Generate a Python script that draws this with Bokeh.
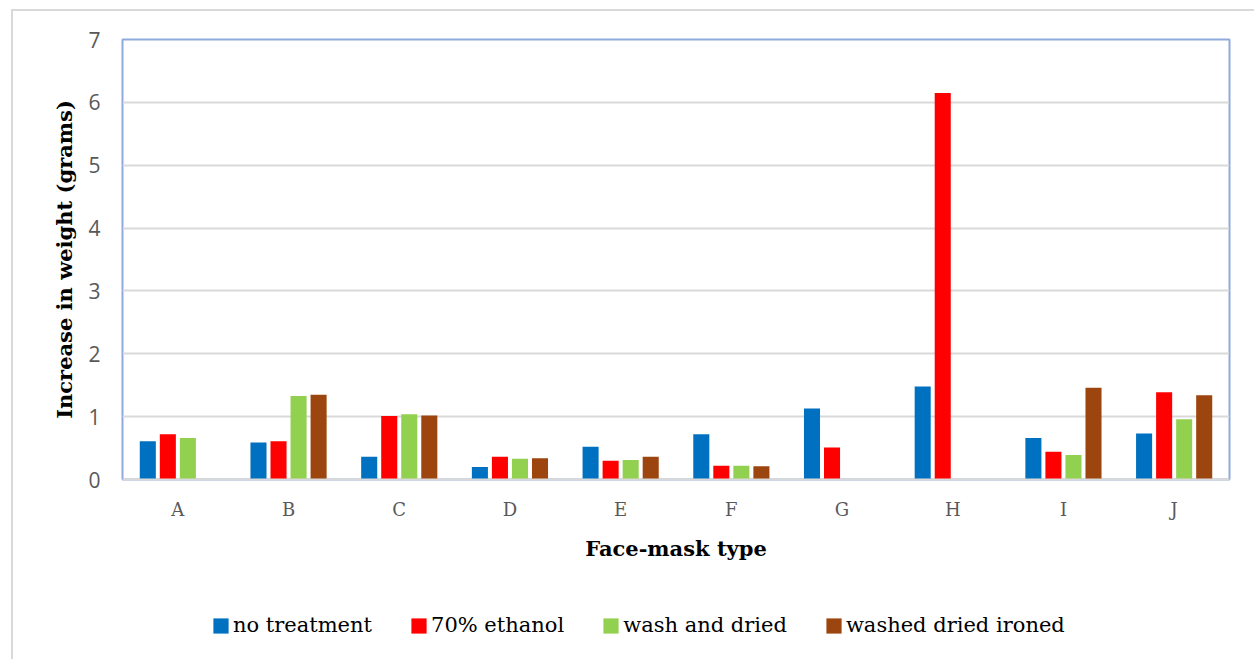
from bokeh.plotting import figure
from bokeh.layouts import column
from bokeh.models import FactorRange, Legend, LegendItem, FixedTicker, ColumnDataSource
from bokeh.transform import dodge
from bokeh.embed import file_html
from bokeh.resources import INLINE

categories = ["A", "B", "C", "D", "E", "F", "G", "H", "I", "J"]
series_names = ["no treatment", "70% ethanol", "wash and dried", "washed dried ironed"]
no_treatment = [0.61, 0.59, 0.36, 0.20, 0.52, 0.72, 1.13, 1.48, 0.66, 0.73]
ethanol_70 = [0.72, 0.61, 1.01, 0.36, 0.30, 0.22, 0.51, 6.15, 0.44, 1.39]
wash_and_dried = [0.66, 1.33, 1.04, 0.33, 0.31, 0.22, 0.0, 0.0, 0.39, 0.96]
washed_dried_ironed = [0.0, 1.35, 1.02, 0.34, 0.36, 0.21, 0.0, 0.0, 1.46, 1.34]
y_ticks = [0, 1, 2, 3, 4, 5, 6, 7]

colors = ["#0070C0", "#FF0000", "#92D050", "#9C450E"]
series = [no_treatment, ethanol_70, wash_and_dried, washed_dried_ironed]
keys = ["s0", "s1", "s2", "s3"]

data = {"cat": categories}
for k, s in zip(keys, series):
    data[k] = s
src = ColumnDataSource(data)

W = 1254
H1, H2 = 600, 59
p = figure(width=W, height=H1, x_range=FactorRange(*categories, range_padding=0),
           y_range=(0, 7), output_backend="svg", toolbar_location=None,
           min_border_left=122, min_border_right=25, min_border_top=39,
           min_border_bottom=H1 - 479)
p.border_fill_color = None
p.background_fill_color = "white"

pitch = 0.181
bw = 0.145
offsets = [-1.5, -0.5, 0.5, 1.5]
for k, c, o in zip(keys, colors, offsets):
    p.vbar(x=dodge("cat", o * pitch, range=p.x_range), top=k, width=bw,
           source=src, fill_color=c, line_color=None)

p.outline_line_color = "#8FAADC"
p.outline_line_width = 2

p.xgrid.grid_line_color = None
p.ygrid.grid_line_color = "#D9D9D9"
p.ygrid.grid_line_width = 2

p.yaxis.ticker = FixedTicker(ticks=y_ticks)
p.yaxis.axis_line_color = None
p.yaxis.major_tick_line_color = None
p.yaxis.minor_tick_line_color = None
p.yaxis.major_label_text_font = "Open Sans"
p.yaxis.major_label_text_font_size = "21px"
p.yaxis.major_label_text_color = "#595959"
p.yaxis.major_label_standoff = 16
p.yaxis.axis_label = "Increase in weight (grams)"
p.yaxis.axis_label_text_font = "DejaVu Serif"
p.yaxis.axis_label_text_font_style = "bold"
p.yaxis.axis_label_text_font_size = "21px"
p.yaxis.axis_label_text_color = "#000000"
p.yaxis.axis_label_standoff = 8

p.xaxis.axis_line_color = "#D9D9D9"
p.xaxis.axis_line_width = 2
p.xaxis.major_tick_line_color = None
p.xaxis.minor_tick_line_color = None
p.xaxis.major_label_text_font = "DejaVu Serif"
p.xaxis.major_label_text_font_size = "18px"
p.xaxis.major_label_text_color = "#595959"
p.xaxis.major_label_standoff = 13
p.xaxis.axis_label = "Face-mask type"
p.xaxis.axis_label_text_font = "DejaVu Serif"
p.xaxis.axis_label_text_font_style = "bold"
p.xaxis.axis_label_text_font_size = "21px"
p.xaxis.axis_label_text_color = "#000000"
p.xaxis.axis_label_standoff = 13

# legend strip below the chart (its frame is aligned with the chart's frame)
q = figure(width=W, height=H2, x_range=(0, 1), y_range=(0, 1),
           output_backend="svg", toolbar_location=None,
           min_border=0, min_border_left=0, min_border_right=0,
           min_border_top=0, min_border_bottom=0)
q.axis.visible = False
q.grid.visible = False
q.outline_line_color = None
q.border_fill_color = None
q.background_fill_color = None
leg_src = ColumnDataSource(dict(x=[0.5], top=[0.0]))  # zero-height, invisible
leg_renderers = [q.vbar(x="x", top="top", bottom=0.0, width=0.0, source=leg_src,
                        fill_color=c, line_color=None) for c in colors]
items = [LegendItem(label=n, renderers=[r]) for n, r in zip(series_names, leg_renderers)]
legend = Legend(items=items, orientation="horizontal", location=(89, 22),
                padding=0, margin=0, border_line_color=None,
                background_fill_alpha=0, glyph_width=19, glyph_height=19,
                label_height=19, label_standoff=3, spacing=37,
                label_text_font="DejaVu Serif", label_text_font_size="21px",
                label_text_color="#000000")
q.add_layout(legend, "center")

layout = column(p, q, spacing=0)
layout.styles = {
    "background": "linear-gradient(#d9d9d9, #d9d9d9) 11px 9px / 2px 100% no-repeat, "
                  "linear-gradient(#d9d9d9, #d9d9d9) 11px 9px / 100% 2px no-repeat, white"
}

open("out.html", "w").write(file_html(layout, INLINE))
